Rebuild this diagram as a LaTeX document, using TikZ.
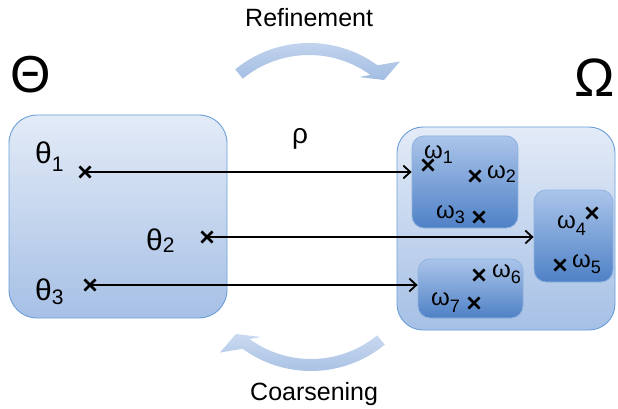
\documentclass[tikz,border=0pt]{standalone}
\usepackage{fontspec}
\setmainfont{Liberation Sans}
\usetikzlibrary{arrows.meta,shapes.misc}
\definecolor{otop}{HTML}{E3EBF7}
\definecolor{obot}{HTML}{A6C0E5}
\definecolor{itop}{HTML}{ABC5EA}
\definecolor{ibot}{HTML}{4F81C6}
\definecolor{oline}{HTML}{6A9ED8}
\definecolor{iline}{HTML}{8FB2E0}
\definecolor{atop}{HTML}{C9D9F0}
\definecolor{abot}{HTML}{A3BDE2}
\newcommand\glab[5]{{\fontsize{#3}{#3}\selectfont #1}\raisebox{-#5pt}{\fontsize{#4}{#4}\selectfont #2}}
\newcommand\curvedarrowpath{(230.7:116.5) arc[start angle=230.7, end angle=306, radius=116.5]
  -- (91,-98) -- (75,-79.5) -- (50,-82.5) -- (306:104.5)
  arc[start angle=306, end angle=230.7, radius=104.5] -- cycle}
\tikzset{
  outerbox/.style={rectangle, rounded corners=26pt, draw=oline, line width=0.9pt, top color=otop, bottom color=obot, inner sep=0pt},
  innerbox/.style={rectangle, rounded corners=12pt, draw=iline, line width=0.8pt, top color=itop, bottom color=ibot, inner sep=0pt},
  xmark/.style={cross out, draw=black, line width=2.6pt, minimum size=8.5pt, inner sep=0pt},
  lab/.style={anchor=base west, inner sep=0pt},
  conn/.style={line width=1.8pt, -{Straight Barb[length=7pt,width=13pt]}},
  blockarrow/.style={top color=atop, bottom color=abot, draw=none}
}
\begin{document}
\begin{tikzpicture}[x=1pt,y=-1pt]
\useasboundingbox (0,0) rectangle (618,409);
% titles
\node[lab] (Theta) at (10,93) {\fontsize{52}{52}\selectfont Θ};
\node[lab] (Omega) at (574,97) {\fontsize{54}{54}\selectfont Ω};
\node[lab] (refine) at (245,27) {\fontsize{25}{25}\selectfont Refinement};
\node[lab] (coarse) at (250,400) {\fontsize{25}{25}\selectfont Coarsening};
\node[lab] (rho) at (292,143) {\fontsize{28}{28}\selectfont ρ};
% block arrows
\begin{scope}[shift={(309,159.5)}]
\shade[blockarrow] \curvedarrowpath;
\end{scope}
\begin{scope}[shift={(311,254.5)}, rotate=180]
\shade[blockarrow] \curvedarrowpath;
\end{scope}
% boxes
\node[outerbox, rounded corners=28pt, minimum width=218pt, minimum height=203pt] (Lbox) at (118,216.5) {};
\node[outerbox, minimum width=218pt, minimum height=203pt] (Rbox) at (506,228.5) {};
\node[innerbox, minimum width=106pt, minimum height=92pt] (in1) at (465,182) {};
\node[innerbox, minimum width=79pt, minimum height=92pt] (in2) at (573.5,236) {};
\node[innerbox, minimum width=105pt, minimum height=59pt] (in3) at (470.5,288.5) {};
% theta labels
\node[lab] (lt1) at (35,163) {\glab{θ}{1}{30}{21}{8}};
\node[lab] (lt2) at (146,250) {\glab{θ}{2}{30}{21}{2}};
\node[lab] (lt3) at (35,300) {\glab{θ}{3}{30}{21}{4}};
% omega labels
\node[lab] (lw1) at (424,158) {\glab{ω}{1}{24}{18}{5}};
\node[lab] (lw2) at (487,178) {\glab{ω}{2}{24}{18}{4}};
\node[lab] (lw3) at (436,218) {\glab{ω}{3}{24}{18}{5}};
\node[lab] (lw4) at (557,228) {\glab{ω}{4}{24}{18}{7}};
\node[lab] (lw5) at (572,267) {\glab{ω}{5}{24}{18}{6}};
\node[lab] (lw6) at (492,277) {\glab{ω}{6}{24}{18}{6}};
\node[lab] (lw7) at (431,305) {\glab{ω}{7}{24}{18}{7}};
% crosses
\node[xmark] (t1) at (85,172) {};
\node[xmark] (t2) at (207,237) {};
\node[xmark] (t3) at (90,285) {};
\node[xmark] (w1) at (428,165) {};
\node[xmark] (w2) at (475,176) {};
\node[xmark] (w3) at (479,217) {};
\node[xmark] (w4) at (592,213) {};
\node[xmark] (w5) at (560,265) {};
\node[xmark] (w6) at (479,275) {};
\node[xmark] (w7) at (474,303) {};
% connectors
\draw[conn] (t1.center) -- (t1.center -| in1.west);
\draw[conn] (t2.center) -- (t2.center -| in2.west);
\draw[conn] (t3.center) -- (t3.center -| in3.west);
\end{tikzpicture}
\end{document}
